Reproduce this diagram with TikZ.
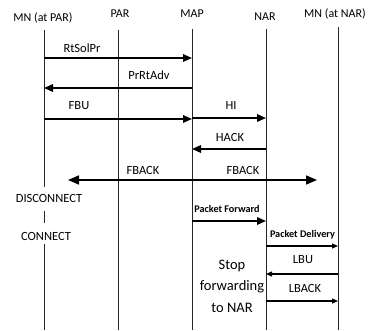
\documentclass[tikz,border=0pt]{standalone}
\usepackage{fontspec}
\setmainfont{Carlito}
\usetikzlibrary{arrows.meta}
\begin{document}
\begin{tikzpicture}[x=1pt,y=-1pt,
  hdr/.style={font=\fontsize{12}{14}\selectfont, inner sep=0pt},
  lbl/.style={font=\fontsize{12.5}{15}\selectfont, inner sep=0pt},
  blbl/.style={font=\bfseries\fontsize{10.2}{12}\selectfont, inner sep=0pt},
  life/.style={line width=0.8pt, draw=black!85},
  msg/.style={line width=1.6pt, -{Triangle[length=9pt,width=7.5pt]}},
  dmsg/.style={line width=1.6pt, {Triangle[length=11pt,width=9pt]}-{Triangle[length=11pt,width=9pt]}},
  smsg/.style={line width=1.2pt, -{Triangle[length=6pt,width=5pt]}}
]
\useasboundingbox[fill=white] (0,0) rectangle (370,330);
% headers
\node[hdr] (hmn) at (43,18) {MN (at PAR)};
\node[hdr] (hpar) at (120,14) {PAR};
\node[hdr] (hmap) at (192,14) {MAP};
\node[hdr] (hnar) at (265,17) {NAR};
\node[hdr] (hmn2) at (335,14) {MN (at NAR)};
% lifeline ends
\coordinate (mnT) at (44,30);
\coordinate (mnA) at (44,187);
\coordinate (mnB) at (44,211);
\coordinate (mnC) at (44,223);
\coordinate (mnD) at (44,244);
\coordinate (mnE) at (44,330);
\coordinate (parT) at (118,30);
\coordinate (parE) at (118,330);
\coordinate (mapT) at (192,29);
\coordinate (mapE) at (192,330);
\coordinate (narT) at (266,29);
\coordinate (narE) at (266,330);
\coordinate (mn2T) at (338,27);
\coordinate (mn2E) at (338,330);
\draw[life] (mnT) -- (mnA) (mnB) -- (mnC) (mnD) -- (mnE);
\draw[life] (parT) -- (parE);
\draw[life] (mapT) -- (mapE);
\draw[life] (narT) -- (narE);
\draw[life] (mn2T) -- (mn2E);
\node[lbl] (disc) at (49,198) {DISCONNECT};
\node[lbl] (conn) at (46,236) {CONNECT};
% message end points
\coordinate (m1a) at (44,58);  \coordinate (m1b) at (192,58);
\coordinate (m2a) at (192,88); \coordinate (m2b) at (44,88);
\coordinate (m3a) at (44,119); \coordinate (m3b) at (192,119);
\coordinate (m4a) at (192,118); \coordinate (m4b) at (266,118);
\coordinate (m5a) at (266,149); \coordinate (m5b) at (192,149);
\coordinate (m6a) at (68,180); \coordinate (m6b) at (317,180);
\coordinate (m7a) at (192,221); \coordinate (m7b) at (266,221);
\coordinate (m8a) at (266,246); \coordinate (m8b) at (338,246);
\coordinate (m9a) at (338,274); \coordinate (m9b) at (266,274);
\coordinate (m10a) at (266,301); \coordinate (m10b) at (338,301);
\draw[msg] (m1a) -- (m1b);
\draw[msg] (m2a) -- (m2b);
\draw[msg] (m3a) -- (m3b);
\draw[msg] (m4a) -- (m4b);
\draw[msg] (m5a) -- (m5b);
\draw[dmsg] (m6a) -- (m6b);
\draw[msg] (m7a) -- (m7b);
\draw[smsg] (m8a) -- (m8b);
\draw[smsg] (m9a) -- (m9b);
\draw[smsg] (m10a) -- (m10b);
% labels
\node[lbl] (l1) at (82,48) {RtSolPr};
\node[lbl] (l2) at (149,75) {PrRtAdv};
\node[lbl] (l3) at (79,106) {FBU};
\node[lbl] (l4) at (231,105) {HI};
\node[lbl] (l5) at (230,137) {HACK};
\node[lbl] (l6) at (143,170) {FBACK};
\node[lbl] (l7) at (243,170) {FBACK};
\node[blbl] (l8) at (227,209) {Packet Forward};
\node[blbl] (l9) at (302.5,235) {Packet Delivery};
\node[lbl] (l10) at (303,260) {LBU};
\node[lbl] (l11) at (305,288) {LBACK};
\node[font=\fontsize{14.5}{21.5}\selectfont, align=center, inner sep=0pt] (stop) at (232,286) {Stop\\forwarding\\to NAR};
\end{tikzpicture}
\end{document}
